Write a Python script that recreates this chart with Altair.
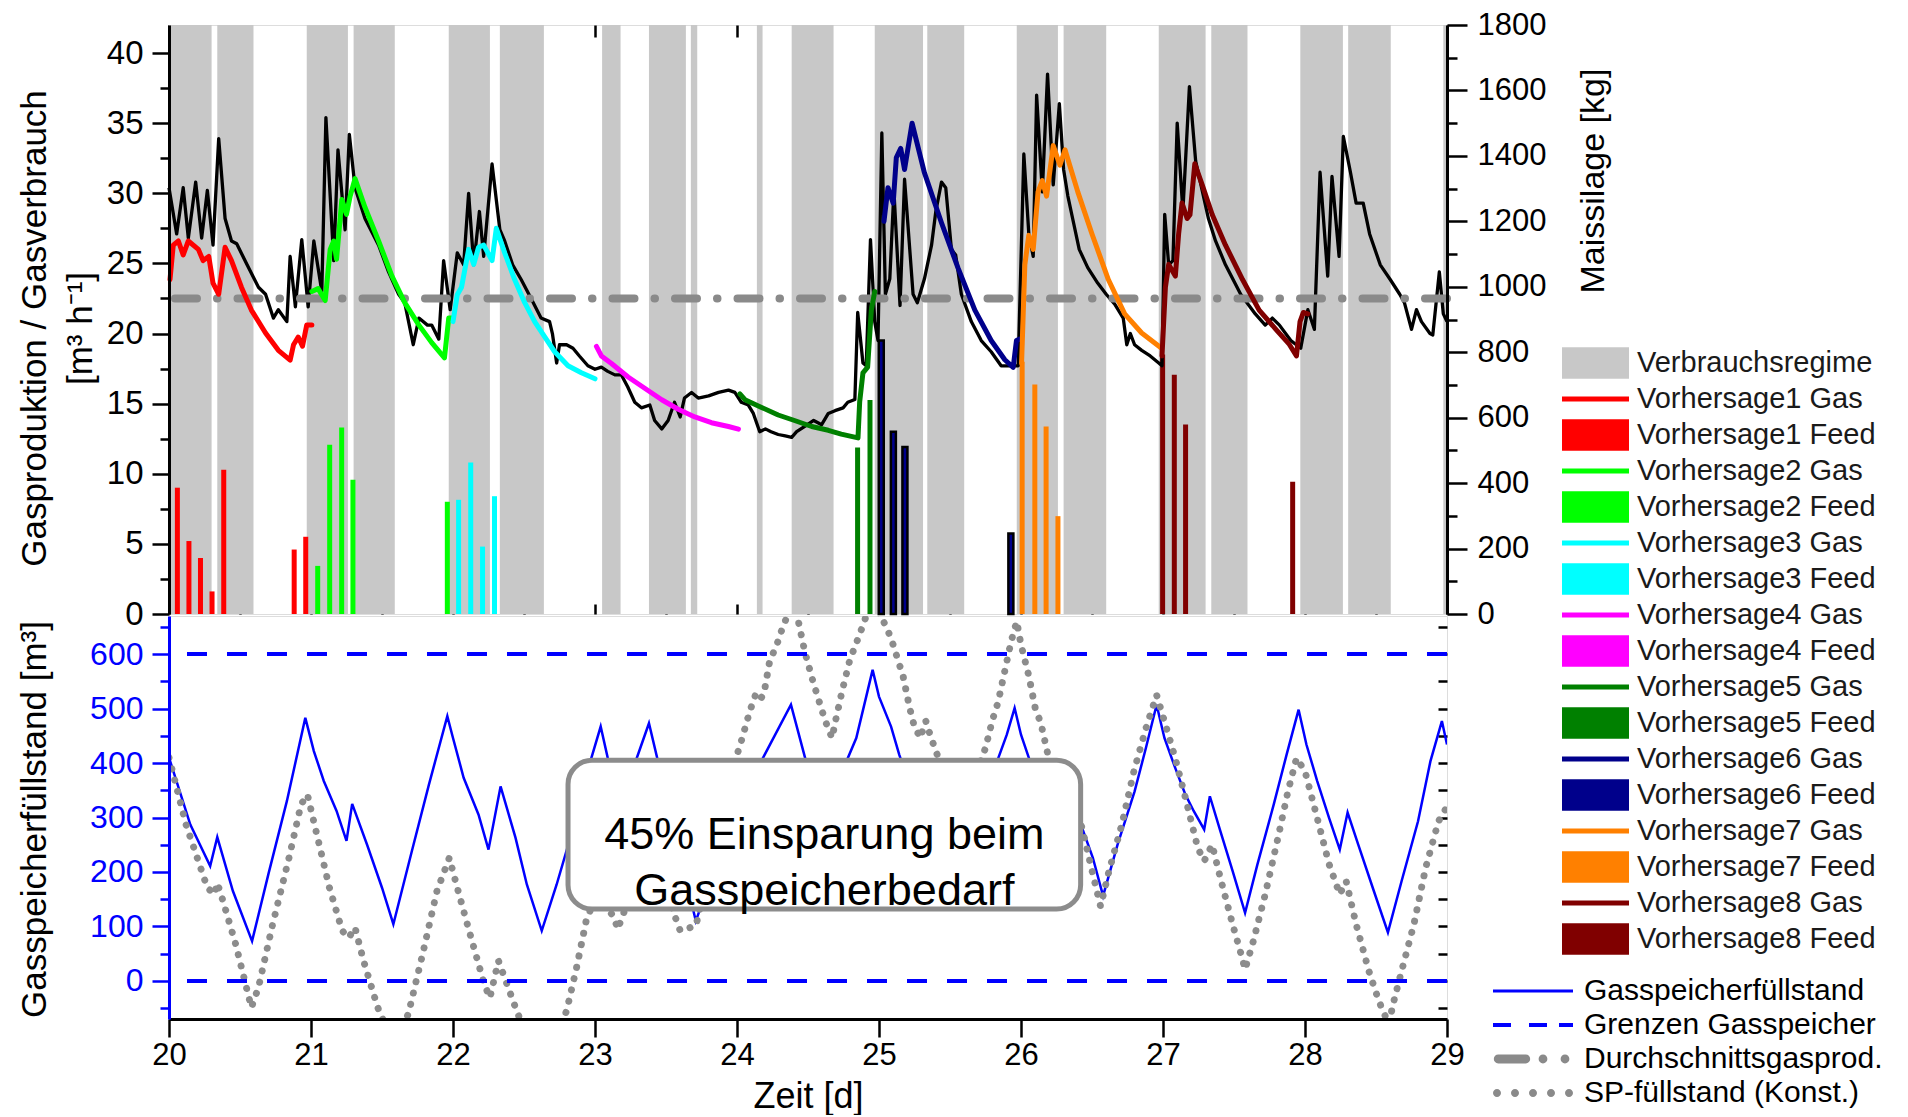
import altair as alt
import pandas as pd

FONT = "Liberation Sans"

# ---------------- data ----------------
band_start = [20.0, 20.34, 20.97, 21.30, 21.97, 22.33, 23.05, 23.38, 23.675, 24.14, 24.385,
              24.97, 25.34, 25.97, 26.30, 26.97, 27.34, 27.967, 28.304, 28.974]
band_end = [20.30, 20.595, 21.26, 21.59, 22.26, 22.64, 23.18, 23.64, 23.72, 24.18, 24.68,
            25.31, 25.60, 26.26, 26.60, 27.30, 27.595, 28.267, 28.604, 29.0]

gas_day = [20.0, 20.054, 20.10, 20.136, 20.188, 20.23, 20.27, 20.31, 20.35, 20.395,
           20.44, 20.477, 20.55, 20.63, 20.68, 20.735, 20.77, 20.83, 20.853, 20.89,
           20.935, 20.98, 21.02, 21.076, 21.105, 21.16, 21.19, 21.24, 21.27, 21.31,
           21.38, 21.476, 21.546, 21.617, 21.66, 21.72, 21.76, 21.82, 21.85, 21.9,
           21.934, 21.98, 22.03, 22.075, 22.11, 22.146, 22.186, 22.216, 22.275, 22.33,
           22.364, 22.42, 22.48, 22.55, 22.62, 22.68, 22.70, 22.73, 22.75, 22.8,
           22.845, 22.89, 22.95, 23.0, 23.045, 23.09, 23.14, 23.186, 23.23, 23.28,
           23.327, 23.386, 23.42, 23.47, 23.515, 23.56, 23.6, 23.63, 23.68, 23.727,
           23.8, 23.87, 23.94, 23.985, 24.03, 24.08, 24.115, 24.16, 24.2, 24.24,
           24.29, 24.34, 24.385, 24.42, 24.48, 24.54, 24.596, 24.643, 24.69, 24.747,
           24.78, 24.83, 24.85, 24.887, 24.91, 24.94, 24.97, 24.993, 25.02, 25.045,
           25.076, 25.105, 25.148, 25.18, 25.24, 25.27, 25.32, 25.37, 25.40, 25.44,
           25.47, 25.51, 25.54, 25.58, 25.65, 25.72, 25.79, 25.86, 25.94, 25.98,
           26.02, 26.055, 26.086, 26.11, 26.15, 26.187, 26.227, 26.27, 26.30, 26.33,
           26.37, 26.41, 26.47, 26.54, 26.6, 26.66, 26.72, 26.745, 26.77, 26.8,
           26.85, 26.91, 26.97, 26.993, 27.012, 27.04, 27.07, 27.1, 27.14, 27.186,
           27.23, 27.32, 27.37, 27.44, 27.547, 27.65, 27.72, 27.77, 27.82, 27.9,
           27.97, 28.02, 28.066, 28.106, 28.16, 28.19, 28.24, 28.27, 28.32, 28.36,
           28.41, 28.455, 28.53, 28.6, 28.667, 28.7, 28.75, 28.785, 28.82, 28.88,
           28.9, 28.946, 28.974, 29.0]
gas_val = [30.4, 27.1, 30.4, 26.8, 30.8, 26.8, 30.2, 26.3, 33.9, 28.2,
           26.6, 26.4, 24.9, 23.3, 22.8, 21.1, 21.7, 20.85, 25.5, 21.9,
           26.7, 21.9, 26.6, 23.0, 35.4, 25.2, 33.1, 27.4, 34.2, 30.4,
           28.2, 26.3, 24.4, 22.8, 22.2, 19.2, 21.1, 20.6, 20.6, 19.6,
           25.2, 21.7, 25.75, 24.9, 30.0, 24.9, 28.7, 25.5, 32.1, 27.4,
           26.6, 24.9, 23.85, 22.5, 21.1, 20.85, 20.0, 17.9, 19.2, 19.2,
           18.95, 18.4, 17.7, 17.45, 17.6, 17.3, 17.05, 17.05, 16.2, 15.1,
           14.7, 14.9, 13.8, 13.2, 13.8, 15.1, 14.05, 15.4, 15.8, 15.4,
           15.55, 15.8, 15.96, 15.8, 15.1, 14.9, 14.3, 13.0, 13.2, 13.0,
           12.8, 12.7, 12.6, 13.0, 13.4, 13.8, 13.5, 14.3, 14.5, 14.7,
           15.1, 15.3, 21.5, 17.9, 17.7, 26.7, 20.85, 19.5, 34.3, 22.8,
           23.9, 30.2, 22.0, 31.0, 22.8, 22.2, 23.9, 26.3, 28.7, 30.8,
           30.4, 26.0, 25.6, 22.8, 20.85, 19.5, 18.7, 17.7, 17.7, 17.7,
           32.8, 27.1, 25.5, 37.0, 30.1, 38.5, 30.6, 36.4, 31.7, 29.8,
           27.9, 26.0, 24.7, 23.6, 22.8, 22.1, 21.1, 19.2, 20.0, 19.2,
           18.8, 18.4, 17.9, 17.7, 28.5, 24.9, 25.2, 35.0, 28.7, 37.6,
           32.3, 28.2, 26.6, 24.9, 22.8, 21.4, 20.6, 21.1, 20.6, 19.5,
           18.95, 21.7, 20.3, 31.5, 24.1, 31.2, 25.5, 34.05, 31.5, 29.3,
           29.3, 27.1, 24.9, 23.85, 22.8, 22.2, 20.3, 21.7, 20.85, 20.0,
           19.9, 24.4, 21.4, 20.85]
avg_gas = 22.5

v1_day = [20.007, 20.03, 20.066, 20.1, 20.136, 20.207, 20.24, 20.28, 20.31, 20.35, 20.395,
          20.44, 20.51, 20.58, 20.68, 20.77, 20.853, 20.877, 20.91, 20.94, 20.97, 21.006]
v1_val = [23.85, 26.3, 26.6, 25.6, 26.6, 26.0, 25.2, 25.5, 23.6, 22.8, 26.15,
          25.2, 23.3, 21.67, 20.04, 18.8, 18.1, 19.2, 19.75, 19.1, 20.6, 20.6]
v2_day = [21.006, 21.05, 21.1, 21.135, 21.16, 21.18, 21.217, 21.25, 21.276, 21.31, 21.38,
          21.476, 21.57, 21.66, 21.76, 21.85, 21.94, 21.97, 22.0]
v2_val = [23.0, 23.2, 22.35, 26.0, 26.6, 25.3, 29.55, 28.5, 29.8, 31.05, 29.0,
          26.6, 24.1, 22.2, 20.6, 19.35, 18.27, 21.1, 21.1]
v3_day = [22.0, 22.03, 22.06, 22.11, 22.146, 22.18, 22.216, 22.275, 22.305, 22.364, 22.434,
          22.505, 22.575, 22.646, 22.716, 22.81, 22.904, 23.0]
v3_val = [20.85, 22.76, 23.3, 26.0, 24.93, 26.15, 26.3, 25.2, 27.5, 25.75, 23.85,
          22.2, 20.85, 19.76, 18.7, 17.7, 17.2, 16.77]
v4_day = [23.01, 23.045, 23.116, 23.233, 23.35, 23.47, 23.586, 23.703, 23.82, 23.94, 24.01]
v4_val = [19.08, 18.4, 17.86, 16.9, 16.1, 15.28, 14.6, 14.05, 13.64, 13.37, 13.18]
v5_day = [24.02, 24.056, 24.173, 24.29, 24.41, 24.526, 24.643, 24.734, 24.852, 24.864, 24.887,
          24.92, 24.946, 24.97]
v5_val = [15.7, 15.28, 14.73, 14.19, 13.78, 13.37, 13.1, 12.83, 12.56, 15.14, 17.2,
          17.6, 21.67, 23.0]
v6_day = [25.035, 25.063, 25.1, 25.122, 25.153, 25.18, 25.233, 25.32, 25.44, 25.557, 25.675,
          25.79, 25.886, 25.945, 25.968, 25.99]
v6_val = [28.0, 30.4, 29.3, 32.55, 33.2, 31.7, 35.0, 31.46, 27.9, 24.66, 21.67,
          19.5, 18.13, 17.59, 19.5, 19.6]
v7_day = [26.004, 26.027, 26.055, 26.086, 26.12, 26.15, 26.18, 26.227, 26.274, 26.31, 26.4,
          26.5, 26.615, 26.73, 26.85, 26.99]
v7_val = [17.86, 24.9, 27.0, 26.0, 30.1, 30.9, 29.8, 33.4, 32.0, 33.1, 30.1,
          27.1, 23.85, 21.4, 20.04, 18.95]
v8_day = [26.993, 27.017, 27.04, 27.087, 27.11, 27.134, 27.17, 27.19, 27.224, 27.276, 27.347,
          27.44, 27.56, 27.677, 27.795, 27.89, 27.94, 27.965, 27.988, 28.02]
v8_val = [18.4, 23.3, 24.93, 24.1, 27.1, 29.3, 28.2, 28.47, 32.1, 30.6, 28.47,
          26.3, 23.85, 21.67, 20.3, 19.22, 18.4, 20.85, 21.5, 21.4]

forecast_names = ["Vorhersage1", "Vorhersage2", "Vorhersage3", "Vorhersage4",
                  "Vorhersage5", "Vorhersage6", "Vorhersage7", "Vorhersage8"]
forecast_colors = ["#ff0000", "#00ff00", "#00ffff", "#ff00ff",
                   "#008000", "#00008b", "#ff8000", "#800000"]
forecast_days = [v1_day, v2_day, v3_day, v4_day, v5_day, v6_day, v7_day, v8_day]
forecast_vals = [v1_val, v2_val, v3_val, v4_val, v5_val, v6_val, v7_val, v8_val]

feed_series = [1, 1, 1, 1, 1, 1, 1, 2, 2, 2, 2, 2, 3, 3, 3, 3, 5, 5,
               6, 6, 6, 6, 7, 7, 7, 7, 8, 8, 8, 8]
feed_day = [20.024, 20.106, 20.188, 20.27, 20.353, 20.853, 20.935, 21.02, 21.105, 21.19,
            21.27, 21.94, 22.02, 22.106, 22.19, 22.275, 24.852, 24.94, 25.02, 25.106,
            25.188, 25.94, 26.02, 26.11, 26.19, 26.274, 27.017, 27.1, 27.18, 27.94]
feed_kg = [386, 223, 171, 69, 441, 197, 236, 147, 517, 570, 410, 343, 349, 463, 206, 360,
           509, 654, 836, 557, 510, 246, 771, 701, 573, 299, 793, 731, 579, 404]

store_day = [20.0, 20.15, 20.29, 20.34, 20.45, 20.585, 20.70, 20.83, 20.96, 21.02, 21.09,
             21.18, 21.25, 21.29, 21.395, 21.5, 21.58, 21.71, 21.83, 21.96, 22.0, 22.075,
             22.18, 22.25, 22.335, 22.44, 22.52, 22.625, 22.73, 22.84, 22.94, 23.04, 23.09,
             23.18, 23.29, 23.38, 23.71, 24.12, 24.16, 24.38, 24.48, 24.63, 24.78, 24.84,
             24.91, 24.955, 25.0, 25.085, 25.143, 25.28, 25.32, 25.6, 25.84, 25.9, 25.955,
             26.0, 26.056, 26.25, 26.30, 26.43, 26.506, 26.578, 26.68, 26.8, 26.88, 26.955,
             27.01, 27.086, 27.158, 27.216, 27.29, 27.33, 27.404, 27.49, 27.578, 27.665,
             27.78, 27.87, 27.955, 28.01, 28.086, 28.17, 28.245, 28.3, 28.375, 28.477,
             28.584, 28.68, 28.796, 28.883, 28.964, 29.0]
store_val = [410, 287, 211, 264, 165, 73, 196, 330, 483, 422, 367,
             312, 257, 325, 250, 171, 104, 238, 360, 486, 446, 373,
             305, 241, 357, 263, 177, 92, 177, 275, 379, 467, 409,
             330, 406, 473, 110, 405, 398, 507, 409, 267, 409, 446,
             522, 571, 522, 467, 415, 312, 370, 200, 409, 452, 501,
             452, 409, 270, 335, 281, 226, 156, 250, 348, 428, 507,
             446, 391, 342, 312, 278, 339, 275, 202, 125, 214,
             324, 415, 498, 434, 367, 299, 241, 309, 250, 171,
             89, 183, 293, 403, 477, 434]

konst_day = [20.0, 20.12, 20.27, 20.32, 20.34, 20.38, 20.47, 20.58, 20.63, 20.73,
             20.845, 20.93, 20.975, 21.03, 21.13, 21.22, 21.265, 21.31, 21.37, 21.47,
             21.58, 21.685, 21.786, 21.887, 21.974, 22.03, 22.12, 22.22, 22.26, 22.32,
             22.44, 22.62, 22.8, 22.87, 22.94, 23.0, 23.13, 23.16, 23.38, 23.6,
             23.71, 24.0, 24.03, 24.09, 24.13, 24.16, 24.19, 24.23, 24.28, 24.32,
             24.40, 24.477, 24.535, 24.6, 24.64, 24.67, 24.69, 24.74, 24.795, 24.84,
             24.88, 24.95, 25.056, 25.1, 25.17, 25.216, 25.245, 25.29, 25.33, 25.36,
             25.4, 25.58, 25.75, 25.8, 25.84, 25.88, 25.93, 25.97, 26.0, 26.056,
             26.1, 26.14, 26.19, 26.27, 26.31, 26.43, 26.506, 26.56, 26.62, 26.71,
             26.795, 26.88, 26.955, 27.01, 27.086, 27.158, 27.245, 27.29, 27.346, 27.404,
             27.49, 27.55, 27.578, 27.636, 27.72, 27.81, 27.88, 27.94, 28.0, 28.086,
             28.17, 28.245, 28.29, 28.36, 28.45, 28.52, 28.59, 28.62, 28.68, 28.767,
             28.85, 28.94, 29.0]
konst_val = [410, 287, 171, 159, 180, 147, 67, -49, -12, 104,
             226, 324, 342, 281, 171, 92, 79, 98, 37, -49,
             -115, -61, 49, 165, 226, 171, 86, -6, -31, 37,
             -49, -170, -55, 24, 113, 150, 120, 95, 250, 92,
             101, 415, 440, 495, 525, 515, 528, 587, 617, 648,
             700, 605, 550, 495, 464, 446, 473, 532, 590, 620,
             648, 700, 648, 617, 559, 501, 471, 446, 477, 452,
             422, 300, 428, 480, 513, 562, 623, 660, 617, 559,
             501, 473, 415, 355, 365, 281, 196, 137, 202, 287,
             385, 464, 525, 477, 409, 336, 244, 220, 250, 189,
             104, 49, 21, 73, 159, 263, 348, 409, 385, 299,
             214, 159, 183, 104, 18, -37, -80, -43, 18, 104,
             208, 293, 320]

store_limits = [0, 600]
box_day = [22.81, 26.42]
box_val = [132, 405]
box_text = "45% Einsparung beim\nGasspeicherbedarf"

legend_b_names = ["Gasspeicherfüllstand", "Grenzen Gasspeicher",
                  "Durchschnittsgasprod.", "SP-füllstand (Konst.)"]

# ---------------- styling ----------------
W, H_TOP, H_BOT = 1278, 589, 403
X_DOM = [20, 29]
half_days = [20 + 0.5 * i for i in range(19)]
BAND = "#c8c8c8"
AVG = "#8a8a8a"
BLUE = "#0000ff"


def circ(c, r):
    return f"M{c - r},0A{r},{r} 0 1,0 {c + r},0A{r},{r} 0 1,0 {c - r},0Z"


RECT = "M-1,-0.47H1V0.47H-1Z"
LINE = "M-1,-0.075H1V0.075H-1Z"
legA_names = ["Verbrauchsregime"] + [f"{n} {k}" for n in forecast_names for k in ("Gas", "Feed")]
legA_colors = [BAND] + [c for c in forecast_colors for _ in (0, 1)]
legA_shapes = [RECT] + [s for _ in forecast_names for s in (LINE, RECT)]

legB_colors = [BLUE, BLUE, AVG, AVG]
legB_shapes = [
    "M-1,-0.04H1V0.04H-1Z",
    "M-1,-0.05H-0.55V0.05H-1Z M-0.1,-0.05H0.35V0.05H-0.1Z M0.65,-0.05H1V0.05H0.65Z",
    "M-0.87,-0.11H-0.18A0.11,0.11 0 0,1 -0.18,0.11H-0.87A0.11,0.11 0 0,1 -0.87,-0.11Z "
    + circ(0.25, 0.11) + " " + circ(0.8, 0.11),
    " ".join(circ(c, 0.1) for c in (-0.9, -0.45, 0.0, 0.45, 0.9)),
]

xs = alt.Scale(domain=X_DOM, nice=False, zero=False)
ys_left = alt.Scale(domain=[0, 42], nice=False, zero=False)
ys_right = alt.Scale(domain=[0, 1800], nice=False)
ys_store = alt.Scale(domain=[-70, 670], nice=False, zero=False)


def cond_tick(test, major, minor):
    return {"condition": {"test": test, "value": major}, "value": minor}


x_top_axis = alt.Axis(orient="top", offset=-12, domain=False, labels=False, ticks=True,
                      tickSize=12, tickWidth=2.5, tickColor="black", values=half_days,
                      grid=False, title=None)
x_mid_axis = alt.Axis(orient="bottom", offset=-10, domain=False, labels=False, ticks=True,
                      tickSize=10, tickWidth=2.5, tickColor="black", values=half_days,
                      grid=False, title=None)
left_axis = alt.Axis(
    orient="left", values=[2.5 * i for i in range(17)], format="d",
    labelExpr="datum.value % 5 === 0 ? datum.label : ''",
    tickSize=cond_tick("datum.value % 5 === 0", 17, 9),
    tickWidth=2.5, tickColor="black", labelPadding=9, labelFontSize=33, labelColor="black",
    labelFont=FONT, labelOverlap=False, domain=True, domainColor="black", domainWidth=3,
    grid=False, zindex=1,
    title=["Gasproduktion / Gasverbrauch", "[m³ h⁻¹]"], titleFont=FONT, titleFontSize=35,
    titleFontWeight="normal", titleColor="black", titleAngle=270, titleX=-135, titleY=303,
    titleAlign="center", titleBaseline="middle", titleLineHeight=46)
right_axis = alt.Axis(
    orient="right", values=list(range(0, 1801, 100)), format="d",
    labelExpr="datum.value % 200 === 0 ? datum.label : ''",
    tickSize=cond_tick("datum.value % 200 === 0", 20, 10),
    tickWidth=2.5, tickColor="black", labelPadding=10, labelFontSize=31, labelColor="black",
    labelFont=FONT, labelOverlap=False, domain=True, domainColor="black", domainWidth=3,
    grid=False, zindex=1,
    title="Maissilage [kg]", titleFont=FONT, titleFontSize=34, titleFontWeight="normal",
    titleColor="black", titleAngle=270, titleX=146, titleY=268, titleAlign="left",
    titleBaseline="middle")
x_bottom_axis = alt.Axis(
    orient="bottom", values=half_days, format="d",
    labelExpr="datum.value % 1 === 0 ? datum.label : ''",
    tickSize=cond_tick("datum.value % 1 === 0", 18, 9),
    tickWidth=2.5, tickColor="black", labelPadding=3, labelFontSize=31, labelColor="black",
    labelFont=FONT, labelFlush=False, labelOverlap=False, domain=True, domainColor="black",
    domainWidth=3, grid=False, zindex=1,
    title="Zeit [d]", titleFont=FONT, titleFontSize=36, titleFontWeight="normal",
    titleColor="black", titleY=77, titleBaseline="middle")
store_axis = alt.Axis(
    orient="left", values=list(range(-50, 651, 50)), format="d",
    labelExpr="datum.value % 100 === 0 && datum.value >= 0 && datum.value <= 600 ? datum.label : ''",
    tickSize=cond_tick("datum.value % 100 === 0", 17, 9),
    tickWidth=2.5, tickColor=BLUE, labelPadding=9, labelFontSize=32, labelColor=BLUE,
    labelFont=FONT, labelOverlap=False, domain=True, domainColor=BLUE, domainWidth=3,
    grid=False, zindex=1,
    title="Gasspeicherfüllstand [m³]", titleFont=FONT, titleFontSize=35,
    titleFontWeight="normal", titleColor="black", titleAngle=270, titleX=-135, titleY=203,
    titleAlign="center", titleBaseline="middle")
store_right_axis = alt.Axis(orient="right", offset=-9, domain=False, labels=False,
                            values=list(range(-50, 651, 50)), tickSize=9, tickWidth=2.5,
                            tickColor="black", grid=False, title=None)

legA = alt.Legend(orient="none", legendX=1393, legendY=320, title=None, symbolSize=4489,
                  clipHeight=36, rowPadding=0, labelFontSize=29, labelFont=FONT,
                  labelColor="#1a1a1a", labelOffset=8, symbolStrokeWidth=0, padding=0,
                  labelLimit=400, symbolOpacity=1)
legB = alt.Legend(orient="none", legendX=1324, legendY=358, title=None, symbolSize=6400,
                  clipHeight=34, rowPadding=0, labelFontSize=30, labelFont=FONT,
                  labelColor="black", labelOffset=11, symbolStrokeWidth=0, padding=0,
                  labelLimit=400, symbolOpacity=1)

# ---------------- top panel ----------------
bands = alt.Chart(pd.DataFrame({"s": band_start, "e": band_end})).mark_rect(color=BAND).encode(
    x=alt.X("s:Q", scale=xs, axis=x_top_axis), x2="e:Q")

feed_df = pd.DataFrame({"n": feed_series, "d": feed_day, "kg": feed_kg})
bar_layers = []
for i, col in enumerate(forecast_colors, start=1):
    sub = feed_df[feed_df["n"] == i]
    if sub.empty:
        continue
    if i == 6:
        mark = alt.Chart(sub).mark_bar(size=5, color=col, stroke="black", strokeWidth=2.5)
    else:
        mark = alt.Chart(sub).mark_bar(size=5, color=col)
    bar_layers.append(mark.encode(
        x=alt.X("d:Q", scale=xs, axis=None),
        y=alt.Y("kg:Q", scale=ys_right, axis=right_axis)))
bars = alt.layer(*bar_layers)

gas_line = alt.Chart(pd.DataFrame({"d": gas_day, "v": gas_val})).mark_line(
    color="black", strokeWidth=3.3, strokeJoin="round").encode(
    x=alt.X("d:Q", scale=xs, axis=x_mid_axis),
    y=alt.Y("v:Q", scale=ys_left, axis=left_axis))
avg_rule = alt.Chart(pd.DataFrame({"v": [avg_gas]})).mark_rule(
    color=AVG, strokeWidth=8, strokeDash=[22, 20, 0.5, 20], strokeCap="round").encode(
    y=alt.Y("v:Q", scale=ys_left, axis=left_axis))
fc_layers = []
for name, col, dd, vv in zip(forecast_names, forecast_colors, forecast_days, forecast_vals):
    fc_layers.append(alt.Chart(pd.DataFrame({"d": dd, "v": vv})).mark_line(
        color=col, strokeWidth=5, strokeJoin="round", strokeCap="round").encode(
        x=alt.X("d:Q", scale=xs, axis=x_mid_axis),
        y=alt.Y("v:Q", scale=ys_left, axis=left_axis)))
legA_layer = alt.Chart(pd.DataFrame({"k": legA_names})).transform_filter("false").mark_point(
    filled=True, opacity=1).encode(
    color=alt.Color("k:N", scale=alt.Scale(domain=legA_names, range=legA_colors), legend=legA),
    shape=alt.Shape("k:N", scale=alt.Scale(domain=legA_names, range=legA_shapes), legend=legA))

lines = alt.layer(gas_line, avg_rule, *fc_layers, legA_layer)
top = alt.layer(bands, bars, lines).resolve_scale(y="independent", x="independent").properties(
    width=W, height=H_TOP)

# ---------------- bottom panel ----------------
store_line = alt.Chart(pd.DataFrame({"d": store_day, "v": store_val})).mark_line(
    color=BLUE, strokeWidth=2.5, clip=True).encode(
    x=alt.X("d:Q", scale=xs, axis=x_bottom_axis),
    y=alt.Y("v:Q", scale=ys_store, axis=store_axis))
konst_line = alt.Chart(pd.DataFrame({"d": konst_day, "v": konst_val})).mark_line(
    color="#8c8c8c", strokeWidth=7, strokeDash=[0.1, 11.5], strokeCap="round", clip=True).encode(
    x=alt.X("d:Q", scale=xs, axis=x_bottom_axis),
    y=alt.Y("v:Q", scale=ys_store, axis=store_axis))
box_df = pd.DataFrame({"d0": [box_day[0]], "d1": [box_day[1]], "v0": [box_val[0]], "v1": [box_val[1]],
                       "dc": [sum(box_day) / 2], "vc": [sum(box_val) / 2], "t": [box_text]})
box = alt.Chart(box_df).mark_rect(fill="white", stroke="#8c8c8c", strokeWidth=5, cornerRadius=24).encode(
    x=alt.X("d0:Q", scale=xs, axis=x_bottom_axis), x2="d1:Q",
    y=alt.Y("v0:Q", scale=ys_store, axis=store_axis), y2="v1:Q")
box_label = alt.Chart(box_df).mark_text(font=FONT, fontSize=45, lineBreak="\n", lineHeight=56,
                                        color="black", align="center", baseline="middle").encode(
    x=alt.X("dc:Q", scale=xs, axis=x_bottom_axis),
    y=alt.Y("vc:Q", scale=ys_store, axis=store_axis), text="t:N")
legB_layer = alt.Chart(pd.DataFrame({"k": legend_b_names})).transform_filter("false").mark_point(
    filled=True, opacity=1).encode(
    color=alt.Color("k:N", scale=alt.Scale(domain=legend_b_names, range=legB_colors), legend=legB),
    shape=alt.Shape("k:N", scale=alt.Scale(domain=legend_b_names, range=legB_shapes), legend=legB))
main_bottom = alt.layer(store_line, konst_line, box, box_label, legB_layer)

limits = alt.Chart(pd.DataFrame({"v": store_limits})).mark_rule(
    color=BLUE, strokeWidth=4, strokeDash=[20, 20]).encode(
    y=alt.Y("v:Q", scale=ys_store, axis=store_right_axis))

bottom = alt.layer(main_bottom, limits).resolve_scale(y="independent").properties(
    width=W, height=H_BOT)

chart = alt.vconcat(top, bottom, spacing=2, bounds="flush").resolve_scale(
    color="independent", shape="independent").properties(
    padding={"left": 8, "top": 0, "right": 5, "bottom": 0}, background="white"
).configure_view(stroke="black", strokeWidth=3).configure(font=FONT)

chart.save("out.html", embed_options={"renderer": "svg", "actions": False})
